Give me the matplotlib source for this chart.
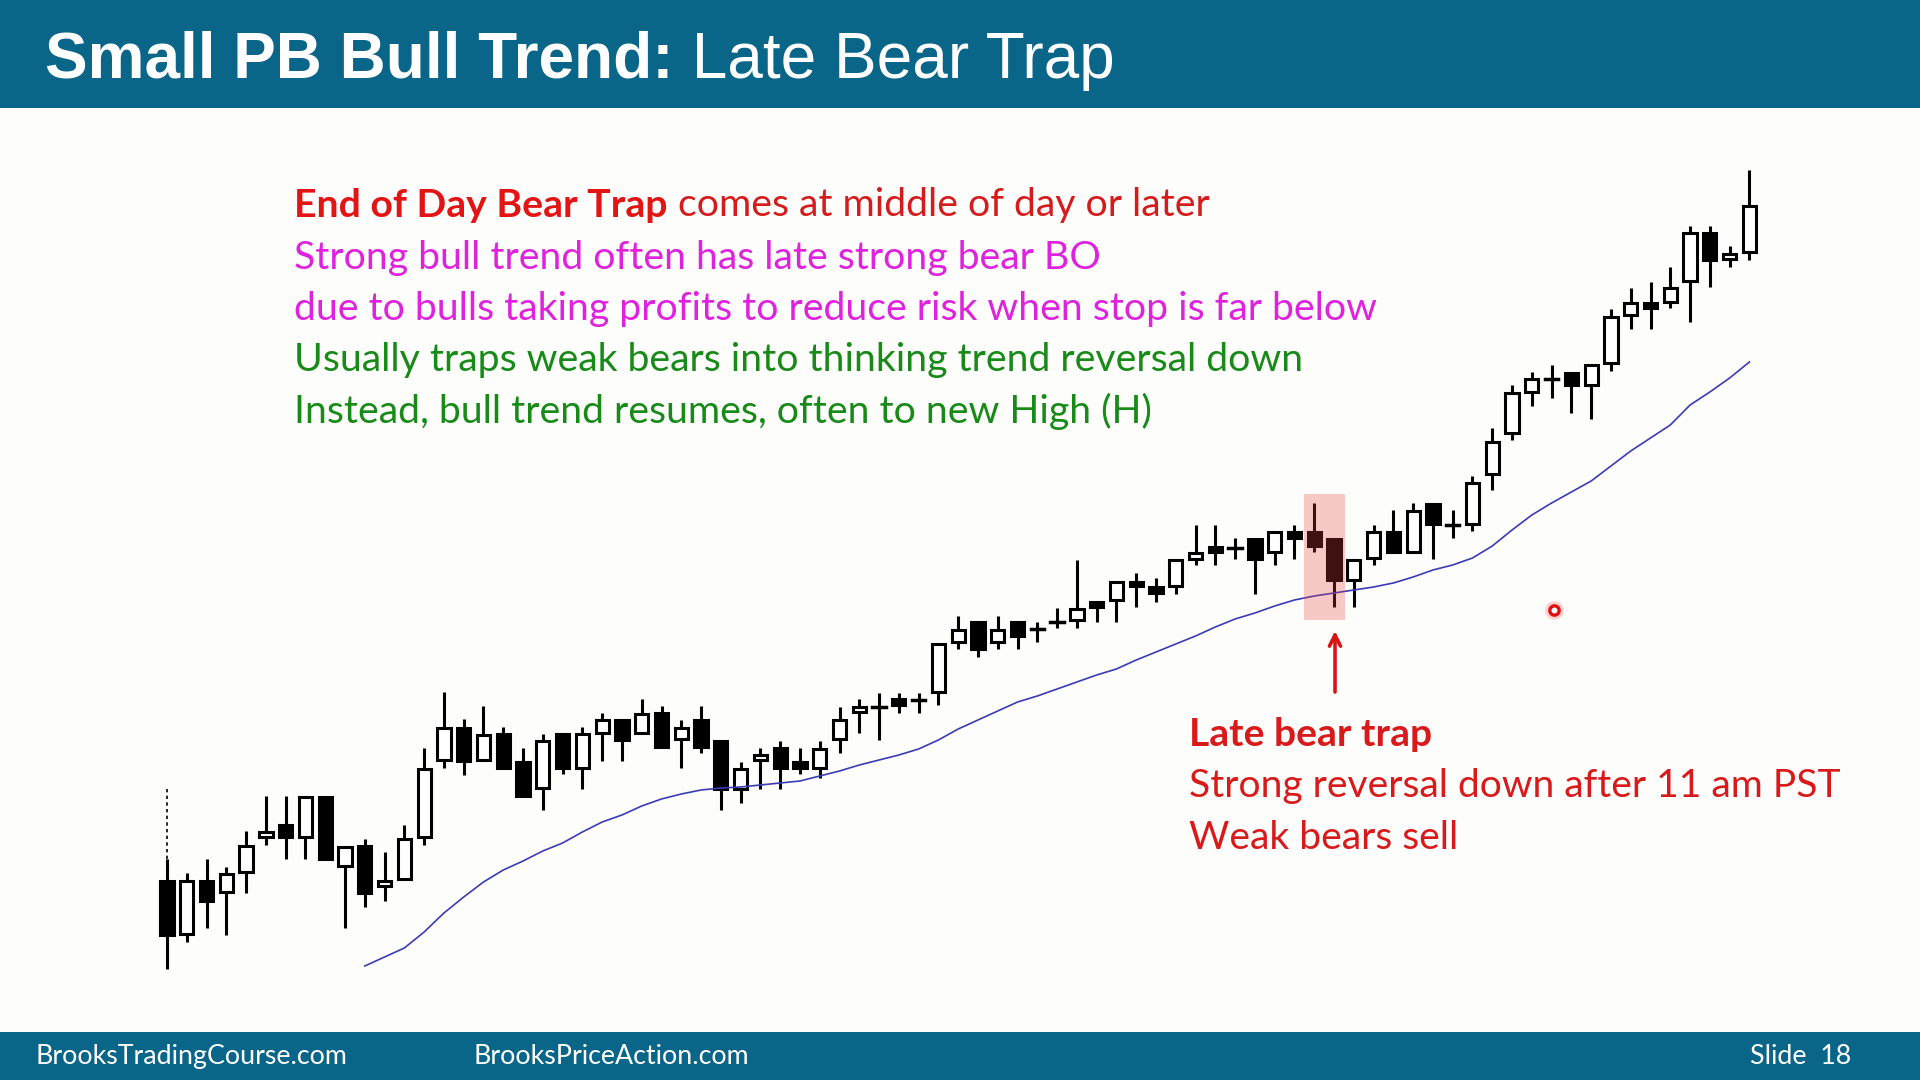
import matplotlib
matplotlib.use("Agg")
import matplotlib.pyplot as plt
from matplotlib.patches import Rectangle

# ---------------- data (price units) ----------------
opens = [119, 66, 119, 108, 128, 163, 175, 163, 203, 134,
         154, 114, 121, 163, 240, 272, 240, 266, 238, 212,
         266, 232, 267, 280, 267, 287, 261, 280, 259, 211,
         240, 252, 238, 232, 261, 288, 293, 301, 300, 308,
         358, 378, 358, 378, 371, 378, 380, 398, 400, 418,
         413, 414, 441, 453, 452, 461, 448, 468, 468, 461,
         420, 442, 468, 448, 496, 475, 476, 526, 567, 608,
         621, 627, 615, 637, 685, 697, 698, 719, 767, 741,
         748]
highs = [141, 127, 141, 133, 169, 204, 204, 203, 203, 153,
         161, 148, 175, 252, 308, 281, 294, 273, 252, 266,
         266, 273, 287, 280, 301, 294, 280, 294, 259, 238,
         252, 259, 252, 259, 293, 301, 307, 307, 307, 356,
         384, 378, 384, 378, 378, 392, 440, 398, 418, 427,
         422, 440, 475, 475, 462, 461, 468, 475, 497, 461,
         440, 475, 490, 497, 496, 490, 524, 572, 615, 628,
         635, 627, 635, 691, 712, 718, 733, 774, 774, 754,
         830]
lows = [31, 58, 72, 65, 107, 155, 141, 141, 141, 72,
        93, 99, 121, 155, 232, 225, 240, 232, 204, 190,
        226, 211, 239, 239, 267, 253, 232, 247, 190, 197,
        211, 211, 226, 222, 247, 267, 260, 287, 287, 295,
        351, 343, 351, 351, 358, 372, 372, 378, 378, 393,
        398, 406, 435, 435, 441, 406, 435, 441, 448, 393,
        393, 435, 448, 448, 441, 462, 469, 510, 560, 594,
        602, 587, 581, 629, 671, 671, 692, 678, 713, 733,
        740]
closes = [65, 119, 99, 126, 154, 168, 163, 203, 141, 153,
          107, 119, 161, 231, 272, 239, 265, 232, 204, 259,
          232, 266, 280, 260, 286, 253, 272, 253, 211, 231,
          245, 232, 232, 251, 280, 293, 293, 295, 300, 356,
          370, 351, 370, 364, 371, 378, 391, 393, 418, 414,
          407, 440, 447, 448, 452, 441, 468, 462, 454, 420,
          440, 468, 448, 489, 476, 475, 517, 558, 607, 621,
          621, 615, 635, 683, 697, 692, 712, 767, 740, 746,
          794]
# 20 bar EMA as drawn on the slide, starts at bar 10
ma_start = 10
ma = [34, 43, 52, 68, 87, 103, 118, 130, 139, 149,
      157, 168, 178, 185, 194, 201, 206, 210, 212, 213,
      215, 217, 219, 224, 229, 235, 240, 245, 251, 260,
      271, 280, 289, 298, 304, 311, 318, 325, 331, 340,
      348, 356, 364, 373, 381, 387, 394, 400, 404, 407,
      410, 413, 417, 423, 430, 435, 442, 454, 470, 485,
      497, 508, 519, 534, 549, 562, 575, 595, 608, 622,
      638]
prior_level = 211          # dotted line above first bar
trap_bars = [58, 59]       # highlighted late bear trap
cursor_bar, cursor_price = 70.1, 390

title_bold = "Small PB Bull Trend:"
title_rest = " Late Bear Trap"
notes = [
    [("End of Day Bear Trap", "bold", "#E21414"), (" comes at middle of day or later", "normal", "#D41C1C")],
    [("Strong bull trend often has late strong bear BO", "normal", "#DE22DE")],
    [("due to bulls taking profits to reduce risk when stop is far below", "normal", "#DE22DE")],
    [("Usually traps weak bears into thinking trend reversal down", "normal", "#178A17")],
    [("Instead, bull trend resumes, often to new High (H)", "normal", "#178A17")],
]
trap_notes = [
    ("Late bear trap", "bold"),
    ("Strong reversal down after 11 am PST", "normal"),
    ("Weak bears sell", "normal"),
]
footer_left = ["BrooksTradingCourse.com", "BrooksPriceAction.com"]
footer_right = "Slide  18"

# ---------------- figure ----------------
W, H = 1920, 1080
BAR_PX = 19.78
X0_PX = 167
BG = "#FDFDFB"
BLUE = "#0A6688"
FONT = "Lato"

fig = plt.figure(figsize=(19.2, 10.8), dpi=100, facecolor=BG)


def fx(px):
    return px / W


def fy(py):
    return 1 - py / H


ax = fig.add_axes([0, 0, 1, 1])
ax.set_xlim(-X0_PX / BAR_PX, (W - X0_PX) / BAR_PX)
ax.set_ylim(1000 - H, 1000)
ax.axis("off")

# header / footer bars (behind the axes)
fig.patches.append(Rectangle((0, fy(108)), 1, 108 / H, transform=fig.transFigure,
                             facecolor=BLUE, edgecolor="none", zorder=-1))
fig.patches.append(Rectangle((0, 0), 1, 48 / H, transform=fig.transFigure,
                             facecolor=BLUE, edgecolor="none", zorder=-1))

# candles
bw = 0.67
for i, (o, h_, l, c) in enumerate(zip(opens, highs, lows, closes)):
    ax.plot([i, i], [l, h_], color="black", lw=2.2, solid_capstyle="butt", zorder=2)
    if o == c:
        ax.plot([i - bw / 2, i + bw / 2], [o, o], color="black", lw=2.5, zorder=3)
    else:
        fc = "black" if c < o else "white"
        ax.add_patch(Rectangle((i - bw / 2, min(o, c)), bw, abs(c - o),
                               facecolor=fc, edgecolor="black", lw=2.2, zorder=3))

ax.plot(range(ma_start, ma_start + len(ma)), ma, color="#3B3BB5", lw=1.2, zorder=4)
ax.plot([0, 0], [highs[0], prior_level], color="black", lw=1.2, ls=(0, (2, 2)), zorder=2)

# highlight of the trap bars
lo = min(lows[b] for b in trap_bars) - 13
hi = max(highs[b] for b in trap_bars) + 9
ax.add_patch(Rectangle((trap_bars[0] - 0.52, lo), trap_bars[-1] - trap_bars[0] + 1.1, hi - lo,
                       facecolor="#E8403F", alpha=0.28, lw=0, zorder=5))
ax.annotate("", xy=(trap_bars[-1] + 0.05, lo - 11), xytext=(trap_bars[-1] + 0.05, lo - 72),
            arrowprops=dict(arrowstyle="->,head_length=0.8,head_width=0.4",
                            color="#D81414", lw=2.6, shrinkA=0, shrinkB=0), zorder=6)

# cursor dot
ax.scatter([cursor_bar], [cursor_price], s=180, color="#F7B5B5", alpha=0.6, lw=0, zorder=6)
ax.scatter([cursor_bar], [cursor_price], s=45, facecolor="white", edgecolor="#E01010", lw=2.4, zorder=7)

# title
t = fig.text(fx(45), fy(78), title_bold, color="white", fontsize=46, fontweight="bold",
             family="Liberation Sans", va="baseline", ha="left")
ax.annotate(title_rest, xy=(1, 0), xycoords=t, va="bottom", ha="left", color="white",
            fontsize=46, family="Liberation Sans", annotation_clip=False, zorder=10)

# notes
NOTE_FS = 28.3
y = 217
for parts in notes:
    prev = None
    for txt, wt, col in parts:
        if prev is None:
            prev = fig.text(fx(294), fy(y), txt, color=col, fontsize=NOTE_FS, fontweight=wt,
                            family=FONT, va="baseline", ha="left")
        else:
            prev = ax.annotate(txt, xy=(1, 0), xycoords=prev, va="bottom", ha="left",
                               color=col, fontsize=NOTE_FS, fontweight=wt, family=FONT,
                               annotation_clip=False)
    y += 51.5

y = 746
for txt, wt in trap_notes:
    fig.text(fx(1189), fy(y), txt, color="#D91A1A", fontsize=28.1, fontweight=wt,
             family=FONT, va="baseline", ha="left")
    y += 51.5

for txt, x in zip(footer_left, [36, 474]):
    fig.text(fx(x), fy(1064), txt, color="white", fontsize=19.3, family=FONT,
             va="baseline", ha="left")
fig.text(fx(1851), fy(1064), footer_right, color="white", fontsize=19.3, family=FONT,
         va="baseline", ha="right")

fig.savefig("out.png", dpi=100, facecolor=BG)
